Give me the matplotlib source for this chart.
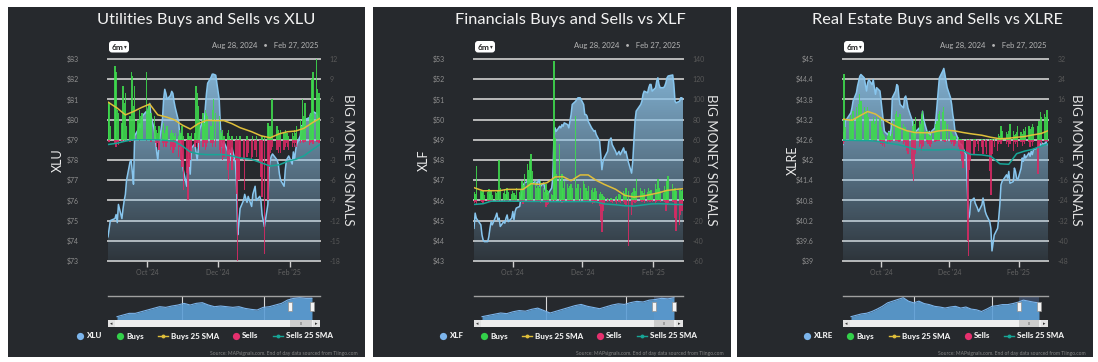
import numpy as np
import pandas as pd
import matplotlib
matplotlib.use('Agg')
import matplotlib.pyplot as plt
import matplotlib.dates as mdates
from matplotlib.patches import Rectangle, FancyBboxPatch

plt.rcParams['font.family'] = ['Lato', 'DejaVu Sans']

W, H = 1098, 362
HOLIDAYS = ['2024-09-02', '2024-11-28', '2024-12-25', '2025-01-01',
            '2025-01-09', '2025-01-20', '2025-02-17']

# ------------------------------------------------------------------ data
titles = ['Utilities Buys and Sells vs XLU',
          'Financials Buys and Sells vs XLF',
          'Real Estate Buys and Sells vs XLRE']
tickers = ['XLU', 'XLF', 'XLRE']
date_range_text = 'Aug 28, 2024   \u2022   Feb 27, 2025'
source_text = 'Source: MAPsignals.com. End of day data sourced from Tiingo.com'

xlu_ticks = [73, 74, 75, 76, 77, 78, 79, 80, 81, 82, 83]
xlu_tick_labels = ['$73', '$74', '$75', '$76', '$77', '$78', '$79', '$80', '$81', '$82', '$83']
xlu_sig_ticks = [-18, -15, -12, -9, -6, -3, 0, 3, 6, 9, 12]

xlf_ticks = [43, 44, 45, 46, 47, 48, 49, 50, 51, 52, 53]
xlf_tick_labels = ['$43', '$44', '$45', '$46', '$47', '$48', '$49', '$50', '$51', '$52', '$53']
xlf_sig_ticks = [-60, -40, -20, 0, 20, 40, 60, 80, 100, 120, 140]

xlre_ticks = [39, 39.6, 40.2, 40.8, 41.4, 42, 42.6, 43.2, 43.8, 44.4, 45]
xlre_tick_labels = ['$39', '$39.6', '$40.2', '$40.8', '$41.4', '$42', '$42.6', '$43.2', '$43.8', '$44.4', '$45']
xlre_sig_ticks = [-48, -40, -32, -24, -16, -8, 0, 8, 16, 24, 32]

xlu_price = [74.2, 74.6, 75.0, 75.1, 75.3, 74.9, 75.8, 75.1, 75.6, 76.0, 76.3, 77.0, 77.9, 78.0, 77.4, 76.8,
             79.2, 79.5, 79.8, 79.6, 80.0, 80.2, 80.4, 80.3, 80.6, 80.8, 80.2, 79.5, 79.0, 78.4,
             78.0,
             78.8, 80.0, 81.0, 81.5, 81.3, 81.0, 81.2, 81.4, 81.3, 80.9, 80.6, 79.9,
             79.2, 78.7, 78.1, 77.5, 76.7, 77.8, 78.0, 77.3, 78.6,
             78.8, 78.4, 78.0, 78.6, 79.5, 80.0, 79.7, 80.6,
             81.3, 81.8, 82.1, 82.25, 82.25, 82.2, 81.0,
             79.7, 78.9, 78.6, 78.9, 78.5, 78.3, 78.5, 78.0, 78.6, 77.9, 76.7,
             74.3, 74.9, 75.6, 76.0, 76.3, 75.9, 76.2, 75.7, 76.3, 76.7, 76.0, 76.2, 76.0, 75.3,
             74.7, 75.8, 77.6, 78.0, 78.2, 78.3, 78.0, 77.8, 77.3, 77.0, 76.7,
             77.5, 78.0, 78.1, 78.2, 77.8, 78.4, 78.0, 78.5, 78.8, 79.2, 79.7, 79.7, 79.9, 80.0, 80.1,
             80.3, 80.2, 80.4, 80.3, 80.1, 80.0, 79.9]
xlu_buys = [5.5, 5.6, 2.0, 11.0, 10.0, 4.5, 4.0, 2.5, 8.0, 5.5,
            7.0, 2.0, 3.5, 10.0, 9.5, 5.0, 8.0, 3.0, 4.5, 3.5,
            4.0, 4.0, 10.0, 4.5, 5.0, 5.5, 4.0, 3.5, 2.0, 1.5,
            1.0, 2.0, 1.5, 2.5, 1.0, 1.5, 2.0, 1.0, 1.5, 1.0,
            0.5, 1.0, 0.5, 1.5, 1.0, 2.0, 0.5, 0.0, 1.0, 0.5,
            0.5, 1.0, 1.0, 8.0, 7.0, 5.0, 3.0, 4.0, 2.5, 4.5,
            4.0, 3.5, 2.0, 4.5, 6.0, 4.0, 3.5, 1.5, 1.0, 1.5,
            0.5, 1.0, 1.5, 0.5, 0.0, 0.5, 0.0, 0.5, 0.0, 0.0,
            0.5, 0.0, 0.0, 0.5, 0.0, 0.0, 0.5, 0.0, 0.5, 0.0,
            0.0, 0.5, 0.5, 2.5, 2.0, 2.0, 6.0, 6.0, 2.0, 1.5,
            1.0, 1.5, 1.0, 1.5, 1.0, 1.0, 0.5, 1.0, 0.5, 1.5,
            1.0, 2.0, 3.0, 2.0, 6.0, 3.5, 5.5, 3.5, 4.0, 9.0,
            10.0, 12.0, 7.5, 7.0, 3.0]
xlu_sells = [0, -0.3, 0, -0.5, -1.0, -0.3, -0.8, -0.3, 0, -0.2, 0, 0, -0.3, 0, 0, -0.2,
             0, 0, -0.2, 0, 0, 0, -0.2, 0, 0, 0, -0.3, 0,
             -0.5, -1.0, -0.5, -1.5, -0.5, -1.0, -0.5, -1.0, -0.5, -1.5, -1.0, -2.0, -1.5, -1.0, -2.5,
             -1.0, -3.0, -4.0, -7.5, -5.0, -9.0, -4.0, -3.0, -2.0, -1.0,
             -0.5, -1.0, -0.5, -1.5, -1.0, -0.5, -1.5, -1.0, -0.5, -0.5, -1.0, -0.5, -1.0, -1.5,
             -2.0, -1.0, -3.0, -2.5, -4.5, -6.0, -3.5, -2.0, -4.5, -3.0, -8.0, -18.0, -6.0, -2.5,
             -3.0, -7.5, -2.5, -2.0, -3.0, -2.5, -1.5, -2.5, -3.5, -5.5, -8.5, -17.0, -9.0,
             -4.0, -2.0, -1.5, -1.0, -1.5, -2.0, -1.0, -2.0, -1.5, -1.0, -0.5, -1.0, -1.5, -1.0,
             -0.5, -1.0, -0.5, -1.0, -0.5,
             0, -0.3, -0.5, -0.3, -0.8, -0.5, -0.3, -0.6, -0.4, -0.3, -0.5, -0.3]
xlu_buys_sma = [5.6, 4.7, 3.7, 4.2, 4.8, 5.3, 3.7, 3.4, 3.0, 2.2, 1.6, 2.4, 2.9, 2.85, 2.85,
                2.4, 1.8, 1.2, 0.6, 0.3, 0.9, 1.2, 1.3, 1.7, 2.6, 3.2]
xlu_sells_sma = [-0.7, -0.5, -0.2, 0, 0, 0, 0, -0.1, -0.2, -0.9, -1.8, -2.1, -2.2, -2.2, -2.2,
                 -2.4, -2.7, -2.9, -3.4, -3.9, -3.7, -3.2, -2.9, -2.4, -1.4, -0.7]
xlu_nav = [46, 49, 52, 52, 55, 58, 61, 64, 62.8, 65.2, 67, 70, 67, 70, 71.2, 67, 64, 65.2, 64,
           62.8, 64, 61, 59.2, 58, 62.8, 64, 67, 70, 76, 79, 80.2, 79, 79]

xlf_price = [44.62, 45.37, 45.12, 44.79, 44.29, 44.04, 43.96, 43.96, 44.21, 44.62,
             44.95, 44.79, 45.20, 45.37, 45.04, 45.12, 44.71, 44.95, 44.87, 45.12,
             45.28, 44.95, 45.12, 45.45, 45.04, 45.45, 45.62, 45.70, 46.11, 46.44,
             46.69, 46.86, 46.94, 47.02, 46.94, 46.97, 46.86, 46.94, 46.77, 46.94,
             47.02, 46.69, 46.86, 46.61, 46.44, 46.28, 46.35, 46.61, 47.11, 49.09,
             49.59, 49.42, 49.67, 49.59, 49.75, 49.67, 49.84, 49.75, 49.59, 49.92,
             50.25, 50.75, 50.91, 51.00, 51.08, 51.08, 50.75, 50.25, 50.25, 50.17,
             49.92, 49.59, 49.51, 49.42, 49.46, 49.26, 48.93, 48.26, 47.52, 47.93,
             48.10, 48.43, 48.93, 49.09, 48.76, 48.43, 48.26, 48.43, 48.26, 48.60,
             48.35, 48.43, 47.93, 47.35, 47.93, 48.93, 49.92, 50.42, 50.75, 50.91,
             51.25, 51.41, 51.33, 51.58, 51.74, 51.74, 51.41, 51.58, 51.91, 52.07,
             51.74, 51.58, 51.58, 51.66, 51.82, 52.07, 52.16, 52.21, 51.74, 50.91,
             50.83, 50.91, 51.08, 51.08, 51.00]
xlf_buys = [8, 6, 34, 9, 7, 10, 5, 8, 11, 6,
            9, 5, 8, 7, 10, 40, 12, 7, 11, 6,
            12, 8, 6, 9, 7, 5, 12, 8, 10, 19,
            15, 26, 36, 30, 39, 46, 29, 19, 12, 14,
            12, 19, 12, 8, 16, 10, 9, 6, 5, 138,
            62, 26, 56, 19, 26, 12, 19, 16, 12, 14,
            16, 12, 84, 12, 16, 12, 19, 16, 12, 9,
            14, 10, 12, 8, 12, 9, 6, 8, 6, 4,
            3, 2, 1, 2, 1, 3, 4, 6, 5, 9,
            7, 12, 9, 7, 8, 12, 9, 21, 12, 9,
            7, 11, 8, 12, 9, 10, 6, 16, 11, 21,
            12, 9, 7, 14, 10, 19, 24, 16, 11, 12,
            9, 10, 11, 9, 10]
xlf_sells = [-3, -2, -4, -1, -2, -3, -1, -1, -2, -1,
             -1, -1, 0, -1, -1, 0, -1, -1, 0, -1,
             -1, -2, -1, -1, -2, -1, -1, -2, -1, -2,
             -4, -1, -1, -1, -1, -1, -1, -1, -1, -1,
             -1, -3, -2, -2, -7, -5, -4, -2, -1, 0,
             -1, 0, -1, 0, -3, -1, -2, -1, -1, -2,
             -1, -1, -2, -1, -1, -1, -1, -1, -1, -1,
             -1, -1, -4, -3, -1, -2, -6, -20, -31, -10,
             -4, -2, -1, -2, -3, -2, -4, -2, -3, -2,
             -4, -5, -45, -14, -6, -2, -3, -2, -1, -2,
             -1, -3, -2, -1, -2, -1, -2, -4, -2, -1,
             -1, -2, -1, -2, -10, -5, -3, -2, -2, -17,
             -30, -24, -14, -10, -7]
xlf_buys_sma = [12.6, 9.5, 9.6, 9.6, 10.9, 10.9, 10.9, 16.6, 15.9, 17.5, 23.2, 23.5, 19.5,
                25.2, 25.2, 19.9, 15.9, 11.0, 5.0, 3.3, 4.3, 5.9, 7.6, 9.9, 10.9, 11.6]
xlf_sells_sma = [-4.0, -3.3, -0.8, -0.8, -0.7, -0.8, -0.9, -1.0, -1.0, -1.1, -1.2, -1.2, -1.2,
                 -1.1, -1.1, -1.5, -3.5, -4.3, -5.3, -5.6, -4.5, -3.5, -3.3, -3.5, -4.0, -4.2]
xlf_nav = [24.5, 26.3, 28.1, 29.9, 29.0, 31.7, 33.5, 32.6, 35.3, 37.1, 33.5, 29.9, 32.6, 35.3,
           38.0, 40.7, 42.5, 39.8, 38.0, 36.2, 38.9, 41.6, 43.4, 42.5, 45.2, 47.0, 46.1, 48.8,
           49.7, 51.5, 50.6, 52.4]

xlre_price = [42.46, 42.66, 43.15, 43.35, 43.40, 43.55, 43.75, 44.00, 44.20, 44.34,
              44.49, 44.54, 44.44, 44.24, 44.05, 44.29, 44.39, 44.24, 44.39, 44.15,
              43.95, 44.15, 44.05, 43.75, 43.45, 43.15, 42.85, 42.75, 42.85, 42.71,
              42.95, 43.85, 44.05, 44.24, 44.20, 43.85, 43.65, 43.55, 43.85, 43.90,
              43.75, 43.55, 43.25, 43.15, 42.85, 42.66, 42.85, 42.95, 42.75, 43.15,
              43.45, 43.20, 42.85, 42.75, 42.85, 42.75, 42.85, 42.95, 43.25, 43.65,
              44.05, 44.44, 44.64, 44.72, 44.54, 44.15, 43.85, 43.65, 43.35, 43.15,
              42.85, 42.61, 42.51, 42.46, 42.46, 42.36, 42.16, 41.17, 40.27, 40.37,
              40.77, 40.87, 40.72, 40.57, 40.47, 40.67, 40.87, 40.47, 40.37, 40.17,
              39.97, 39.30, 39.77, 39.97, 40.27, 40.67, 41.26, 41.36, 41.56, 41.46,
              41.66, 41.31, 41.36, 41.76, 41.66, 41.46, 41.41, 41.76, 42.06, 41.96,
              42.16, 42.06, 42.21, 42.11, 42.26, 42.16, 42.31, 42.36, 42.46, 42.41,
              42.51, 42.46, 42.56, 42.46, 42.46]
xlre_buys = [3, 26, 5, 7.5, 10, 7.5, 11.5, 12.8, 8.9, 14.2,
             18, 15.5, 12.8, 11.5, 10.2, 12.8, 8.9, 7.5, 8.9, 6.2,
             7.5, 8.9, 8.2, 4.9, 3.6, 2.2, 1.5, 1.6, 2.9, 1.5,
             2.2, 7.5, 10.2, 11.5, 8.9, 7.5, 10.2, 6.2, 5.0, 4.9,
             4.0, 3.6, 2.5, 5.6, 7.5, 6.2, 8.9, 7.5, 6.2, 10.2,
             11.5, 7.5, 3.6, 2.2, 1.5, 1.6, 2.5, 3.6, 6.2, 7.5,
             10.2, 11.5, 10.9, 12.8, 7.5, 6.2, 3.6, 2.9, 2.2, 1.6,
             1.5, 1.0, 0.5, 0.3, 0.5, 0, 0.3, 0, 0, 0.3,
             0, 0.5, 0.3, 0, 0, 0.3, 0, 0.5, 0, 0.3,
             0, 0.5, 0.3, 0.5, 2.2, 1.5, 5.6, 3.6, 2.9, 2.2,
             3.6, 6.2, 3.6, 2.0, 2.2, 3.0, 5.6, 2.9, 2.2, 4.2,
             3.6, 4.9, 5.6, 4.2, 4.9, 6.2, 4.9, 5.6, 7.5, 10.9,
             8.9, 10.2, 8.9, 11.9, 9.0]
xlre_sells = [-1.7, -1.0, -0.5, -0.3, -0.5, -0.2, -0.3, 0, -0.3, -0.5, -0.2, 0, -0.3, -0.2, 0,
              -0.3, -0.5, -0.2, -0.3, -0.5, -0.8,
              -1.0, -1.0, -1.5, -2.4, -1.7, -3.0, -1.7, -0.5, -1.0,
              -0.3, -0.5, -0.3, -0.3, -0.5,
              -1.0, -0.5, -1.7, -1.0, -3.0, -4.4, -5.7, -9.7, -13.6, -16.5, -11.0, -5.7, -3.0, -1.7,
              -4.4, -3.0, -2.4, -1.0, -1.7, -2.4, -3.0, -1.7, -1.0, -0.5, -0.5, -0.5, -0.5, -0.5,
              -0.5, -1.0, -0.5, -1.0,
              -1.7, -1.0, -2.4, -1.7, -3.0, -4.4, -5.7, -8.3, -11.0, -5.7, -40.0, -46.0, -12.0,
              -8.3, -5.7, -3.0, -1.7, -4.4, -3.0, -5.7, -3.0, -5.7, -12.3, -22.0, -5.7, -3.0, -4.4,
              -1.7, -1.0, -1.7, -0.5, -1.7, -1.0,
              -3.0, -1.7, -4.4, -1.0, -1.7, -1.0, -3.0, -1.0, -2.4, -1.0, -1.7, -0.5, -1.0, -3.0,
              -1.0, -2.4, -1.0, -13.6, -3.0, -1.0, -1.7, -0.5, -1.0, -0.5, -1.0]
xlre_buys_sma = [8.2, 7.7, 9.5, 11.2, 10.2, 8.0, 6.3, 4.8, 3.6, 2.9, 2.8, 2.8, 3.5, 3.8, 3.5,
                 2.9, 2.4, 1.8, 1.0, 0.4, 0.6, 1.0, 1.3, 1.9, 2.5, 3.6]
xlre_sells_sma = [-0.2, -0.2, -0.3, -0.3, -0.5, -1.0, -1.5, -2.0, -2.8, -3.7, -4.0, -4.0, -4.0,
                  -3.8, -3.8, -4.3, -5.8, -6.0, -6.5, -9.5, -9.7, -5.5, -4.5, -3.8, -2.5, -1.5]
xlre_nav = [32.5, 33.5, 34.5, 35, 36.25, 38, 40, 42.5, 43.75, 45, 46.25, 43.75, 42.5, 43.75, 42,
            41.25, 40, 39.5, 38.75, 39.5, 40, 38.75, 39.5, 38, 37.5, 36.25, 38, 40, 40.5, 41.25,
            41.25, 42, 43, 44.5, 43.75, 43, 42.5]

legend_labels = ['Buys', 'Buys 25 SMA', 'Sells', 'Sells 25 SMA']

# ------------------------------------------------------------------ layout / style
PANEL_L = [8, 373, 737]
PANEL_R = [365, 731, 1093]
PLOT_L = [108, 474, 843]
PLOT_R = [320, 683, 1048]
PLOT_T, PLOT_B = 59, 261
NAV_T, NAV_B = 296, 320
NAV_GEOM = [(9, 204, (74, 156), (182, 204)),
            (8, 200, (72, 152), (180, 200)),
            (8, 196, (71, 149), (176, 196))]
LEG_OFF = [[72, 112, 155, 228, 270], [70, 111, 154, 227, 269], [70, 113, 157, 231, 272]]

BG_PANEL = '#26292d'
GRID = '#b9b9b9'
GREEN = '#3edb4e'
PINK = '#d92a64'
YEL = '#e0bf3a'
TEAL = '#17a697'
LINE = '#88c6ee'
AREA_RGB = (0.55, 0.76, 0.90)

fig = plt.figure(figsize=(W / 100, H / 100), dpi=100)
fig.patch.set_facecolor('white')

bg = fig.add_axes([0, 0, 1, 1], zorder=-5)
bg.set_xlim(0, W); bg.set_ylim(H, 0); bg.axis('off')
ov = fig.add_axes([0, 0, 1, 1], zorder=5)
ov.set_xlim(0, W); ov.set_ylim(H, 0); ov.axis('off')


def tdays(n):
    return pd.bdate_range('2024-08-28', periods=n, freq='C', holidays=HOLIDAYS)


def draw_panel(k, title, ticker, price, buys, sells, bsma, ssma, pticks, plabels, sticks, nav):
    PL, PR = PLOT_L[k], PLOT_R[k]
    bg.add_patch(Rectangle((PANEL_L[k], 7), PANEL_R[k] - PANEL_L[k], 350, color=BG_PANEL, lw=0))

    ax = fig.add_axes([PL / W, 1 - PLOT_B / H, (PR - PL) / W, (PLOT_B - PLOT_T) / H])
    ax.patch.set_visible(False)
    x = mdates.date2num(tdays(len(price)))
    lo, hi = pticks[0], pticks[-1]
    for t in pticks:
        ax.axhline(t, color=GRID, lw=1.4, zorder=0.5, clip_on=False)
    poly = ax.fill_between(x, price, lo, facecolor='none', edgecolor='none')
    grad = np.zeros((256, 1, 4))
    grad[:, 0, :3] = AREA_RGB
    grad[:, 0, 3] = np.linspace(0.08, 0.95, 256)
    im = ax.imshow(grad, extent=[x[0], x[-1], lo, hi], origin='lower', aspect='auto', zorder=1)
    im.set_clip_path(poly.get_paths()[0], transform=ax.transData)
    ax.plot(x, price, color=LINE, lw=1.1, zorder=2)
    ax.set_xlim(x[0], x[-1]); ax.set_ylim(lo, hi)
    ax.set_yticks(pticks); ax.set_yticklabels(plabels)
    ax.tick_params(axis='y', length=0, pad=21, labelsize=5, labelcolor='#8f8f8f')
    ax.xaxis.set_major_locator(mdates.MonthLocator(bymonth=[10, 12, 2]))
    ax.xaxis.set_major_formatter(mdates.DateFormatter("%b '%y"))
    ax.tick_params(axis='x', direction='out', length=4, width=1, color='#d0d0d0',
                   labelsize=5, labelcolor='#626262', pad=2)
    for s in ax.spines.values():
        s.set_visible(False)

    ax2 = ax.twinx()
    xb = mdates.date2num(tdays(len(buys)))
    xs = mdates.date2num(tdays(len(sells)))
    ax2.bar(xb, buys, width=1.15, color=GREEN, lw=0, alpha=0.88, zorder=2)
    ax2.bar(xs, sells, width=1.15, color=PINK, lw=0, alpha=0.88, zorder=2)
    full = tdays(len(price))
    idx = (list(range(0, len(price), 5)) + [len(price) - 1])
    ax2.plot(mdates.date2num(full[idx[:len(bsma)]]), bsma, color=YEL, lw=1.1, zorder=3)
    ax2.plot(mdates.date2num(full[idx[:len(ssma)]]), ssma, color=TEAL, lw=1.1, zorder=3)
    ax2.set_ylim(sticks[0], sticks[-1]); ax2.set_xlim(x[0], x[-1])
    ax2.set_yticks(sticks); ax2.set_yticklabels([str(t) for t in sticks])
    ax2.tick_params(axis='y', length=0, pad=7, labelsize=5, labelcolor='#585858')
    for s in ax2.spines.values():
        s.set_visible(False)

    # texts
    cx = (PL + PR) / 2 - 8
    ov.text(cx, 20, title, ha='center', va='center', fontsize=11.8, color='#f2f2f2')
    ov.add_patch(FancyBboxPatch((PL + 1, 41), 20, 11.5, boxstyle='round,pad=0,rounding_size=3',
                                fc='white', ec='none'))
    ov.text(PL + 4, 47, '6m', ha='left', va='center', fontsize=6, weight='bold', color='#222222')
    ov.text(PL + 16, 47, '\u25be', ha='left', va='center', fontsize=4, color='#333333',
            family='DejaVu Sans')
    ov.text(PR - 2, 45, date_range_text, ha='right', va='center', fontsize=5.5, color='#b5b5b5')
    ov.text(PL - 50, 160, ticker, rotation=90, ha='center', va='center', fontsize=9, color='#ececec')
    ov.text(PR + 28, 160, 'BIG MONEY SIGNALS', rotation=270, ha='center', va='center',
            fontsize=9.5, color='#e4e4e4')

    # navigator
    s0, s1, grids, sel = NAV_GEOM[k]
    nav_ax = fig.add_axes([PL / W, 1 - NAV_B / H, (PR - PL) / W, (NAV_B - NAV_T) / H])
    nav_ax.axis('off')
    n = len(nav)
    kk = (s1 - s0) / (n - 1)
    wpx = PR - PL
    nav_ax.set_xlim(-s0 / kk, (wpx - s0) / kk)
    rng = max(nav) - min(nav)
    nlo, nhi = min(nav) - 0.175 * rng, max(nav) + 0.09 * rng
    nav_ax.set_ylim(nlo, nhi)
    xi = np.arange(n)
    for g in grids:
        nav_ax.axvline((g - s0) / kk, color='#d8d8d8', lw=0.8, zorder=0)
    nav_ax.axvspan((sel[0] - s0) / kk, (sel[1] - s0) / kk, color='#6685c2', alpha=0.35, lw=0, zorder=0.5)
    nav_ax.fill_between(xi, nav, nlo, color='#5c9fd6', alpha=0.9, lw=0, zorder=1)
    nav_ax.plot(xi, nav, color='#7cb5ec', lw=0.8, zorder=2)
    ov.plot([PL, PR], [NAV_T, NAV_T], color='#a0a0a0', lw=1.0)
    for hx in (PL + sel[0], PL + sel[1]):
        ov.add_patch(Rectangle((hx - 2, 302), 4, 9, fc='#f4f4f4', ec='#909090', lw=0.5))
    ov.add_patch(Rectangle((PL, NAV_B), PR - PL, 7, fc='#efefef', ec='none'))
    ov.add_patch(Rectangle((PL, NAV_B), 7, 7, fc='#e2e2e2', ec='none'))
    ov.add_patch(Rectangle((PR - 7, NAV_B), 7, 7, fc='#e2e2e2', ec='none'))
    ov.add_patch(Rectangle((PL + sel[0], NAV_B), sel[1] - sel[0], 7, fc='#cdcdcd', ec='none'))
    ov.text(PL + 3.5, NAV_B + 3.6, '\u25c2', ha='center', va='center', fontsize=3.5, color='#333',
            family='DejaVu Sans')
    ov.text(PR - 3.5, NAV_B + 3.6, '\u25b8', ha='center', va='center', fontsize=3.5, color='#333',
            family='DejaVu Sans')
    ov.text(PL + (sel[0] + sel[1]) / 2, NAV_B + 3.6, 'III', ha='center', va='center', fontsize=3,
            color='#555')

    # legend
    offs = LEG_OFF[k]
    labels = [ticker] + legend_labels
    kinds = ['c', 'c', 'l', 'c', 'l']
    cols = ['#7cb5ec', '#33d14a', YEL, '#e6306e', TEAL]
    ly = 336
    for lab, kind, c, off in zip(labels, kinds, cols, offs):
        mx = PANEL_L[k] + off
        if kind == 'c':
            ov.plot([mx], [ly], 'o', ms=5.2, color=c, mec='none')
            tx = mx + 6
        else:
            ov.plot([mx - 5, mx + 5], [ly, ly], color=c, lw=1.0)
            ov.plot([mx], [ly], 'o', ms=2.8, color=c, mec='none')
            tx = mx + 8
        ov.text(tx, ly, lab, ha='left', va='center', fontsize=5.8, weight='black', color='#f0f0f0')

    ov.text(PANEL_R[k] - 7, 353, source_text, ha='right', va='center', fontsize=3.6, color='#858585')


draw_panel(0, titles[0], tickers[0], xlu_price, xlu_buys, xlu_sells, xlu_buys_sma, xlu_sells_sma,
           xlu_ticks, xlu_tick_labels, xlu_sig_ticks, xlu_nav)
draw_panel(1, titles[1], tickers[1], xlf_price, xlf_buys, xlf_sells, xlf_buys_sma, xlf_sells_sma,
           xlf_ticks, xlf_tick_labels, xlf_sig_ticks, xlf_nav)
draw_panel(2, titles[2], tickers[2], xlre_price, xlre_buys, xlre_sells, xlre_buys_sma, xlre_sells_sma,
           xlre_ticks, xlre_tick_labels, xlre_sig_ticks, xlre_nav)

fig.savefig('out.png', dpi=100, facecolor='white')
